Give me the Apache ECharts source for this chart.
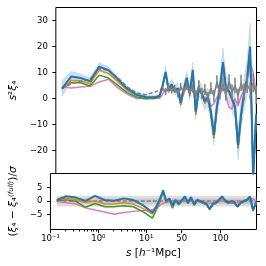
<!DOCTYPE html>
<html><head><meta charset="utf-8">
<script src="https://cdn.jsdelivr.net/npm/echarts@6.0.0/dist/echarts.min.js"></script>
<style>html,body{margin:0;padding:0;background:#fff}#c{width:266px;height:266px}</style>
</head><body><div id="c"></div><script>
// ---- data ----
const sLog = [0.135, 0.214, 0.339, 0.537, 0.851, 1.35, 2.14, 3.39, 5.37, 8.51, 13.5];
const sLin = [18,22,26,30,34,38,42,46,50,54,58,62,66,70,74,78,82,86,90,94,98,102,106,110,114,118,122,126,130,134,138,142,146];
const blueTop = [3.8, 8.5, 7.9, 6.7, 12.3, 10.9, 7.4, 3.8, 1.5, 0.6, 0.5,
  1.0, 5.0, 10.2, 3.5, 5.5, 3.0, 4.0, -1.5, 3.5, 8.0, 2.0, 11.0, -5.0, 4.0, 2.0, -1.0, 0.5, -5.0, -14.0, -3.0, 4.0, 14.0, 4.0, 3.0, 0.0, -3.0, -18.0, -6.0, 2.0, 8.0, 20.0, -30.0, -6.0];
const blueSigma = [3.0, 2.0, 1.5, 1.3, 1.5, 1.2, 1.0, 0.9, 0.8, 0.7, 0.7,
  0.8, 1.2, 2.0, 1.5, 2.0, 1.8, 2.0, 2.2, 2.0, 2.5, 2.5, 3.0, 3.0, 3.0, 3.0, 3.5, 3.5, 4.0, 4.0, 4.0, 4.5, 5.5, 4.5, 4.5, 5.0, 5.0, 5.5, 5.5, 6.0, 6.5, 9.0, 8.0, 8.0];
const orangeTop = [3.6, 7.0, 6.8, 5.8, 10.9, 9.6, 6.4, 3.2, 1.3, 0.4, 0.4,
  1.2, 4.8, 10.0, 3.3, 5.3, 2.8, 3.8, -2.0, 3.3, 7.6, 1.8, 10.5, -5.8, 3.8, 1.8, -1.5, 0.3, -5.5, -14.8, -3.3, 3.8, 13.5, 3.8, 2.8, -0.3, -3.5, -18.8, -6.5, 1.8, 7.6, 19.5, -30.0, -6.5];
const greenTop = [4.0, 6.1, 6.1, 4.8, 9.0, 7.9, 5.1, 2.3, 0.6, -0.1, 0.0,
  0.8, 4.5, 9.8, 3.0, 5.0, 2.5, 3.5, -2.3, 3.0, 7.3, 1.5, 10.2, -6.2, 3.5, 1.5, -1.8, 0.0, -6.0, -15.2, -3.6, 3.5, 13.2, 3.5, 2.5, -0.6, -3.8, -19.2, -7.0, 1.5, 7.2, 19.0, -30.0, -7.0];
const pinkTop = [4.5, 4.1, 4.4, 4.7, 6.4, 7.4, 4.1, 1.7, 0.0, -0.1, 0.5,
  0.0, 1.5, 4.0, 2.5, 4.0, 3.0, 3.5, 1.0, 2.5, 4.0, 2.5, 4.5, 1.0, 3.0, 2.0, 0.0, 1.0, -3.0, -2.0, 0.5, 1.5, 4.0, 1.0, -3.5, -4.0, 0.0, -3.0, 1.0, 3.0, 7.0, 14.0, 10.0, 2.0];
const fullDashS = [0.135, 0.214, 0.339, 0.537, 0.851, 1.35, 2.14, 3.39, 5.37, 8.51, 13.5, 18, 22];
const fullDash = [3.8, 5.8, 6.7, 7.4, 11.5, 10.9, 7.9, 4.5, 2.2, 1.5, 2.5, 3.3, 4.0];
const fullLinS = [22,26,30,34,38,42,46,50,54,58,62,66,70,74,78,82,86,90,94,98,102,106,110,114,118,122,126,130,134,138,142,146];
const fullLin = [4.0, 2.5, 4.5, 3.0, 4.0, 2.0, 4.5, 3.0, 5.0, 2.5, 4.0, 1.5, 5.0, 2.0, 3.5, 0.5, 4.0, 1.0, 6.5, 2.0, 5.5, 2.0, 6.5, 2.5, 5.0, 1.0, 6.0, 2.5, 5.5, 3.0, 6.0, 1.5];
const fullLinErr = [1.0, 1.1, 1.2, 1.1, 1.3, 1.4, 1.5, 1.4, 1.6, 1.7, 1.8, 1.7, 2.0, 2.1, 2.1, 2.0, 2.3, 2.4, 2.5, 2.4, 2.6, 2.7, 2.8, 2.9, 3.0, 2.9, 3.2, 3.3, 3.4, 3.3, 3.6, 3.5];
const blueBot = [0.4, 1.8, 1.3, 0.1, 1.9, 0.4, 0.1, 1.0, 0.4, -1.5, -4.2,
  -1.5, 1.0, 4.0, 0.0, 1.0, -1.7, 0.5, -1.0, 0.3, 1.7, -0.5, 1.5, -1.2, 0.5, 0.0, -0.5, -1.0, -2.9, -1.0, -0.5, 0.5, 1.7, 0.3, -0.5, 0.0, -0.5, -2.0, -0.5, 0.0, 0.5, 1.7, -3.4, -0.3];
const orangeBot = [0.4, 1.0, 0.6, -0.6, 0.1, -1.1, -1.1, -0.6, -1.1, -2.7, -4.8,
  -2.0, 0.5, 3.6, -0.3, 0.8, -2.0, 0.3, -1.2, 0.1, 1.5, -0.7, 1.3, -1.4, 0.3, -0.2, -0.7, -1.2, -3.0, -1.2, -0.7, 0.3, 1.5, 0.1, -0.7, -0.2, -0.7, -2.1, -0.7, -0.2, 0.3, 1.5, -3.5, -0.5];
const greenBot = [0.1, 0.6, -0.1, -2.3, -0.9, -2.1, -2.1, -1.7, -2.1, -3.9, -6.3,
  -2.8, 0.0, 3.3, -0.5, 0.6, -2.6, 0.1, -1.4, -0.1, 1.3, -0.9, 1.1, -1.6, 0.1, -0.4, -0.9, -1.4, -3.1, -1.4, -0.9, 0.1, 1.3, -0.1, -0.9, -0.4, -0.9, -2.2, -0.9, -0.4, 0.1, 1.3, -3.6, -0.7];
const pinkBot = [0.0, -0.6, -1.1, -2.5, -3.3, -4.0, -4.9, -4.2, -3.8, -3.5, -3.2,
  -2.5, -1.5, -0.8, -0.5, 0.0, -0.5, 0.0, -0.3, 0.0, 0.3, -0.2, 0.2, -0.3, 0.0, -0.2, -0.5, -0.3, -1.0, -0.5, 0.0, -0.3, 0.3, -0.3, -0.8, -0.8, -0.2, -0.5, 0.0, 0.2, 0.5, 1.2, 0.8, 0.0];
const bandLevels = [2, 1];
const bandColors = ['#dedede', '#c8c8c8'];
const xMajorS = [0.1, 1, 10, 50, 100];
const xMajorLabels = ['10⁻¹', '10⁰', '10¹', '50', '100'];
const xMinorS = [0.2,0.3,0.4,0.5,0.6,0.7,0.8,0.9,2,3,4,5,6,7,8,9];
const yTopTicks = [-20, -10, 0, 10, 20, 30];
const yBotTicks = [-5, 0, 5];

// ---- scale: log below S0, linear above ----
const S0 = 15, LIN = 0.016204;
function tx(s){ return s <= S0 ? Math.log10(s) : Math.log10(S0) + (s - S0) * LIN; }
const sBins = sLog.concat(sLin);
const pts = (sArr, vArr) => sArr.map((s, i) => [tx(s), vArr[i]]);
const xMin = -1.002, xMax = 3.306;
const majorT = xMajorS.map(tx), minorT = xMinorS.map(tx);
const FF = 'DejaVu Sans';
const C = {blue:'#1f77b4', orange:'#ff7f0e', green:'#2ca02c', pink:'#e377c2', gray:'#7f7f7f'};
const minus = v => (v < 0 ? '−' : '') + Math.abs(v);
const lab = {fontFamily: FF, fontSize: 8.5, color: '#000'};
const tick = (vals, len) => ({show: true, inside: false, length: len, customValues: vals, lineStyle: {color: '#000', width: 1}});
const noLine = {show: false, onZero: false};

function yAx(grid, min, max, ticks, side, name, nameGap, rich) {
  const a = {gridIndex: grid, type: 'value', min: min, max: max, position: side,
    axisLine: noLine, splitLine: {show: false}, axisTick: tick(ticks, 3.5),
    axisLabel: side === 'left' ? Object.assign({customValues: ticks, formatter: minus, margin: 8}, lab) : {show: false}};
  if (name) {
    a.name = name; a.nameLocation = 'middle'; a.nameGap = nameGap; a.nameRotate = 90;
    a.nameTextStyle = {fontFamily: FF, fontSize: 10.5, color: '#000', rich: rich};
  }
  return a;
}
const italic = {fontFamily: FF, fontSize: 10.5, fontStyle: 'italic', color: '#000'};
const line = (name, data, color, w, xi, yi, extra) => Object.assign({
  type: 'line', name: name, data: data, xAxisIndex: xi, yAxisIndex: yi, showSymbol: false, symbol: 'none',
  lineStyle: {color: color, width: w}, itemStyle: {color: color}, z: 3}, extra || {});

const chart = echarts.init(document.getElementById('c'), null, {renderer: 'canvas'});
chart.setOption({
  animation: false,
  backgroundColor: '#fff',
  grid: [
    {left: 45.5, top: 7.5, width: 211, height: 166, show: true, borderColor: '#000', borderWidth: 1, backgroundColor: 'transparent'},
    {left: 45.5, top: 173.5, width: 211, height: 56, show: true, borderColor: '#000', borderWidth: 1, backgroundColor: 'transparent'}
  ],
  xAxis: [
    {gridIndex: 0, type: 'value', min: xMin, max: xMax, axisLine: noLine, axisTick: {show: false}, axisLabel: {show: false}, splitLine: {show: false}},
    {gridIndex: 1, type: 'value', min: xMin, max: xMax, position: 'bottom', axisLine: noLine, splitLine: {show: false},
      axisTick: tick(majorT, 3.5),
      axisLabel: Object.assign({customValues: majorT, margin: 5, formatter: v => {
        let k = 0; majorT.forEach((t, i) => { if (Math.abs(t - v) < Math.abs(majorT[k] - v)) k = i; }); return xMajorLabels[k]; }}, lab),
      name: '{i|s} [{i|h}⁻¹Mpc]', nameLocation: 'middle', nameGap: 18,
      nameTextStyle: {fontFamily: FF, fontSize: 10.5, color: '#000', rich: {i: italic}}},
    {gridIndex: 1, type: 'value', min: xMin, max: xMax, position: 'bottom', axisLine: noLine, splitLine: {show: false},
      axisTick: tick(minorT, 2), axisLabel: {show: false}}
  ],
  yAxis: [
    yAx(0, -28.8, 35, yTopTicks, 'left', '{i|s}²{i|ξ}₄', 26, {i: italic}),
    yAx(0, -28.8, 35, yTopTicks, 'right'),
    yAx(1, -10.5, 10.2, yBotTicks, 'left', '({i|ξ}₄ − {i|ξ}₄{s|(full)})/{i|σ}', 21,
      {i: italic, s: {fontFamily: FF, fontSize: 7, fontStyle: 'italic', color: '#000', verticalAlign: 'top', lineHeight: 8}}),
    yAx(1, -10.5, 10.2, yBotTicks, 'right')
  ],
  series: [
    {type: 'custom', xAxisIndex: 0, yAxisIndex: 0, clip: true, z: 1, silent: true,
      data: [[tx(sBins[0]), blueTop[0]]],
      renderItem: (params, api) => {
        const up = [], lo = [];
        sBins.forEach((s, i) => {
          up.push(api.coord([tx(s), blueTop[i] + blueSigma[i]]));
          lo.push(api.coord([tx(s), blueTop[i] - blueSigma[i]]));
        });
        return {type: 'polygon', shape: {points: up.concat(lo.reverse())},
          style: {fill: 'rgba(31,119,180,0.22)', stroke: 'rgba(31,119,180,0.25)', lineWidth: 0.6}};
      }},
    line('pink', pts(sBins, pinkTop), C.pink, 1.5, 0, 0),
    line('green', pts(sBins, greenTop), C.green, 1.5, 0, 0),
    line('orange', pts(sBins, orangeTop), C.orange, 1.5, 0, 0),
    line('full', pts(fullDashS, fullDash), C.gray, 1.5, 0, 0, {lineStyle: {color: C.gray, width: 1.5, type: [4, 2]}}),
    line('blue', pts(sBins, blueTop), C.blue, 2, 0, 0),
    line('fullLin', pts(fullLinS, fullLin), C.gray, 1.5, 0, 0, {z: 4}),
    {type: 'custom', xAxisIndex: 0, yAxisIndex: 0, clip: true, z: 4, silent: true,
      data: fullLinS.map((s, i) => [tx(s), fullLin[i] - fullLinErr[i], fullLin[i] + fullLinErr[i]]),
      encode: {x: 0, y: [1, 2]},
      renderItem: (params, api) => {
        const a = api.coord([api.value(0), api.value(1)]), b = api.coord([api.value(0), api.value(2)]);
        return {type: 'line', shape: {x1: a[0], y1: a[1], x2: b[0], y2: b[1]}, style: {stroke: C.gray, lineWidth: 1.5}};
      }},
    // bottom panel: sigma bands
    {type: 'custom', xAxisIndex: 1, yAxisIndex: 2, clip: true, z: 1, silent: true,
      data: bandLevels.map((b, i) => [i]),
      renderItem: (params, api) => {
        const b = bandLevels[params.dataIndex];
        const p0 = api.coord([tx(sBins[0]), b]), p1 = api.coord([tx(sBins[sBins.length - 1]), -b]);
        return {type: 'rect', shape: {x: p0[0], y: p0[1], width: p1[0] - p0[0], height: p1[1] - p0[1]},
          style: {fill: bandColors[params.dataIndex]}};
      }},
    {type: 'line', xAxisIndex: 1, yAxisIndex: 2, showSymbol: false, symbol: 'none', z: 2,
      data: [[tx(sBins[0]), 0], [tx(sBins[sBins.length - 1]), 0]],
      lineStyle: {color: C.gray, width: 1.5, type: [4, 2]}},
    line('pinkB', pts(sBins, pinkBot), C.pink, 1.5, 1, 2),
    line('greenB', pts(sBins, greenBot), C.green, 1.5, 1, 2),
    line('orangeB', pts(sBins, orangeBot), C.orange, 1.5, 1, 2),
    line('blueB', pts(sBins, blueBot), C.blue, 2, 1, 2)
  ]
});
</script></body></html>
